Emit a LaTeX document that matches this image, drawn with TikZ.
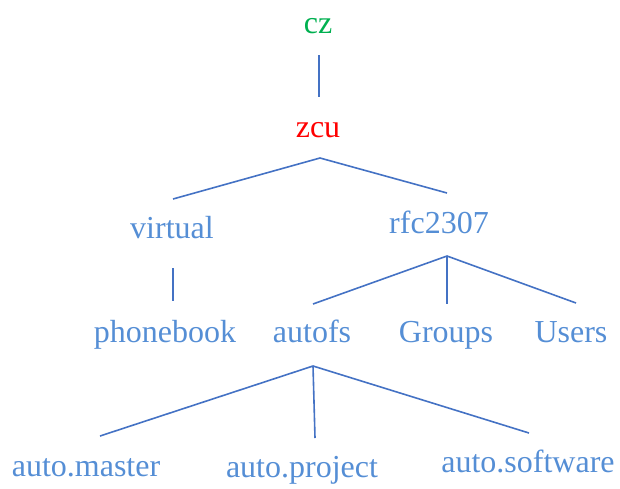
\documentclass[tikz,border=0pt]{standalone}
\usepackage{fontspec}
\setmainfont{Liberation Serif}
\definecolor{txtblue}{RGB}{85,142,213}
\definecolor{lnblue}{RGB}{68,114,196}
\definecolor{czgreen}{RGB}{0,176,80}
\begin{document}
\begin{tikzpicture}[x=1pt,y=-1pt,
  lbl/.style={anchor=base,inner sep=0pt,font=\fontsize{32}{32}\selectfont,text=txtblue},
  conn/.style={draw=lnblue,line width=1.6pt}]
\useasboundingbox (0,0) rectangle (620,488);
% nodes
\node[lbl,text=czgreen] (cz) at (318,33) {cz};
\node[lbl,text=red] (zcu) at (318,137) {zcu};
\node[lbl] (virtual) at (172,238) {virtual};
\node[lbl] (rfc) at (439,233) {rfc2307};
\node[lbl] (phonebook) at (165,342) {phonebook};
\node[lbl] (autofs) at (312,342) {autofs};
\node[lbl] (groups) at (446,342) {Groups};
\node[lbl] (users) at (571,342) {Users};
\node[lbl] (master) at (86,476) {auto.master};
\node[lbl] (project) at (302,477) {auto.project};
\node[lbl] (software) at (528,472) {auto.software};
% connector end points
\coordinate (czB) at (319,55);
\coordinate (zcuT) at (319,97);
\coordinate (zcuB) at (320,158);
\coordinate (virtT) at (173,199);
\coordinate (rfcT) at (447,193);
\coordinate (virtB) at (173,268);
\coordinate (phT) at (173,301);
\coordinate (rfcB) at (447,256);
\coordinate (autofsT) at (313,304);
\coordinate (groupsT) at (447,304);
\coordinate (usersT) at (576,303);
\coordinate (autofsB) at (313,366);
\coordinate (masterT) at (100,436);
\coordinate (projectT) at (315,438);
\coordinate (softwareT) at (529,433);
% connectors
\draw[conn] (czB) -- (zcuT);
\draw[conn] (virtT) -- (zcuB) -- (rfcT);
\draw[conn] (virtB) -- (phT);
\draw[conn] (autofsT) -- (rfcB) -- (usersT);
\draw[conn] (rfcB) -- (groupsT);
\draw[conn] (masterT) -- (autofsB) -- (softwareT);
\draw[conn] (autofsB) -- (projectT);
\end{tikzpicture}
\end{document}
